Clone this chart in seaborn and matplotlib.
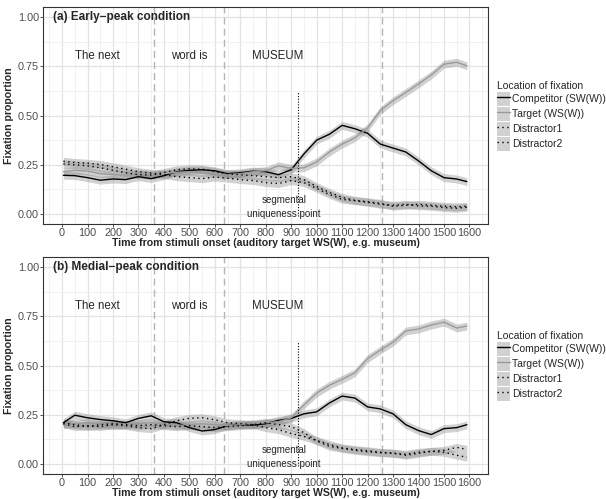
#!/usr/bin/env python
#
# Eye-tracking fixation proportions for two conditions (early / medial peak)

import numpy as np
import pandas as pd
import matplotlib
matplotlib.use("Agg")
import matplotlib.pyplot as plt
import seaborn as sns
from matplotlib.lines import Line2D
from matplotlib.patches import Patch
from matplotlib.legend_handler import HandlerTuple

# time bins (ms)
time_ms = [5] + list(range(50, 1551, 50)) + [1590]

locations = ["Competitor (SW(W))", "Target (WS(W))", "Distractor1", "Distractor2"]

# (a) early-peak condition
early_competitor = [0.197, 0.195, 0.185, 0.172, 0.178, 0.175, 0.190, 0.180, 0.195, 0.215,
                    0.222, 0.225, 0.220, 0.205, 0.210, 0.218, 0.215, 0.200, 0.225, 0.305,
                    0.375, 0.405, 0.450, 0.433, 0.410, 0.355, 0.335, 0.315, 0.270, 0.220,
                    0.185, 0.178, 0.165]
early_target = [0.215, 0.222, 0.218, 0.205, 0.200, 0.198, 0.205, 0.200, 0.205, 0.212,
                0.215, 0.210, 0.205, 0.200, 0.205, 0.215, 0.220, 0.245, 0.232, 0.235,
                0.265, 0.315, 0.355, 0.387, 0.437, 0.525, 0.575, 0.617, 0.660, 0.705,
                0.760, 0.770, 0.752]
early_distractor1 = [0.268, 0.262, 0.258, 0.252, 0.240, 0.228, 0.215, 0.208, 0.200, 0.190,
                     0.185, 0.180, 0.188, 0.182, 0.175, 0.170, 0.160, 0.155, 0.170, 0.160,
                     0.130, 0.100, 0.075, 0.068, 0.060, 0.050, 0.045, 0.050, 0.042, 0.040,
                     0.033, 0.030, 0.035]
early_distractor2 = [0.255, 0.250, 0.245, 0.235, 0.222, 0.210, 0.200, 0.198, 0.212, 0.225,
                     0.230, 0.228, 0.215, 0.205, 0.200, 0.195, 0.190, 0.185, 0.190, 0.175,
                     0.140, 0.110, 0.085, 0.070, 0.063, 0.055, 0.040, 0.045, 0.050, 0.045,
                     0.040, 0.037, 0.040]

# (b) medial-peak condition
medial_competitor = [0.210, 0.248, 0.235, 0.226, 0.220, 0.210, 0.232, 0.245, 0.215, 0.210,
                     0.185, 0.168, 0.175, 0.195, 0.200, 0.198, 0.205, 0.222, 0.232, 0.255,
                     0.265, 0.310, 0.345, 0.335, 0.290, 0.280, 0.255, 0.200, 0.170, 0.150,
                     0.180, 0.185, 0.200]
medial_target = [0.200, 0.205, 0.210, 0.200, 0.195, 0.200, 0.205, 0.210, 0.200, 0.195,
                 0.200, 0.205, 0.200, 0.195, 0.200, 0.205, 0.210, 0.215, 0.235, 0.300,
                 0.360, 0.400, 0.430, 0.463, 0.535, 0.578, 0.618, 0.675, 0.685, 0.705,
                 0.720, 0.690, 0.700]
medial_distractor1 = [0.205, 0.190, 0.195, 0.190, 0.200, 0.195, 0.185, 0.180, 0.200, 0.220,
                      0.232, 0.235, 0.225, 0.210, 0.205, 0.200, 0.210, 0.200, 0.190, 0.160,
                      0.118, 0.090, 0.080, 0.070, 0.063, 0.058, 0.055, 0.045, 0.055, 0.065,
                      0.070, 0.085, 0.075]
medial_distractor2 = [0.210, 0.200, 0.190, 0.200, 0.205, 0.200, 0.195, 0.200, 0.195, 0.190,
                      0.195, 0.190, 0.185, 0.190, 0.195, 0.200, 0.185, 0.175, 0.155, 0.140,
                      0.120, 0.100, 0.082, 0.074, 0.068, 0.060, 0.056, 0.050, 0.060, 0.065,
                      0.060, 0.045, 0.035]

ribbon_halfwidth = 0.02

panel_titles = ["(a) Early\u2212peak condition", "(b) Medial\u2212peak condition"]
word_labels = ["The next", "word is", "MUSEUM"]
word_label_times = [137, 500, 845]
word_boundaries = [362, 637, 1258]
uniqueness_point = 928


def build_frame(series):
    rows = []
    for loc, vals in zip(locations, series):
        for t, v in zip(time_ms, vals):
            rows.append({"time": t, "prop": v, "location": loc})
    return pd.DataFrame(rows)


def draw_panel(ax, df, title):
    ribbon_col = "#888888"
    for loc in locations:
        sub = df[df["location"] == loc]
        ax.fill_between(sub["time"], sub["prop"] - ribbon_halfwidth, sub["prop"] + ribbon_halfwidth,
                        color=ribbon_col, alpha=0.38, lw=0, zorder=2)
    pal = {locations[0]: "black", locations[1]: "#9a9a9a", locations[2]: "black", locations[3]: "black"}
    dashes = {locations[0]: "", locations[1]: "", locations[2]: (1, 2.5), locations[3]: (1, 2.5)}
    sns.lineplot(data=df, x="time", y="prop", hue="location", style="location",
                 palette=pal, dashes=dashes, linewidth=1.0, legend=False, ax=ax, zorder=3)

    for b in word_boundaries:
        ax.axvline(b, color="#b5b5b5", lw=1.0, ls=(0, (5, 3)), zorder=1)
    ymin, ymax = -0.05, 1.05
    ax.axvline(uniqueness_point, ymin=(-0.01 - ymin) / (ymax - ymin), ymax=(0.62 - ymin) / (ymax - ymin),
               color="black", lw=0.8, ls=(0, (1, 1.5)), zorder=4)
    ax.text(872, 0.035, "segmental\nuniqueness point", ha="center", va="center",
            fontsize=7, linespacing=1.5, zorder=5)
    for lab, t in zip(word_labels, word_label_times):
        ax.text(t, 0.80, lab, ha="center", va="center", fontsize=8.3)
    ax.text(-35, 1.0, title, ha="left", va="center", fontsize=8.5, fontweight="bold")

    ax.set_xlim(-75, 1673)
    ax.set_ylim(ymin, ymax)
    ax.set_xticks(np.arange(0, 1601, 100))
    ax.set_xticks(np.arange(-50, 1651, 100), minor=True)
    ax.set_yticks([0, 0.25, 0.5, 0.75, 1.0])
    ax.set_yticklabels(["0.00", "0.25", "0.50", "0.75", "1.00"])
    ax.set_yticks([0.125, 0.375, 0.625, 0.875], minor=True)
    ax.grid(which="major", color="#e3e3e3", lw=0.9, zorder=0)
    ax.grid(which="minor", color="#efefef", lw=0.6, zorder=0)
    ax.set_axisbelow(True)
    ax.tick_params(which="major", length=2, width=0.6, color="#333333", labelsize=7.8,
                   labelcolor="#4d4d4d", pad=0.8)
    ax.tick_params(which="minor", length=0)
    for s in ax.spines.values():
        s.set_color("#333333")
        s.set_linewidth(0.8)
    ax.set_xlabel("Time from stimuli onset (auditory target WS(W), e.g. museum)",
                  fontsize=7.6, fontweight="bold", labelpad=0)
    ax.set_ylabel("Fixation proportion", fontsize=7.6, fontweight="bold", labelpad=3)

    # legend with grey key background like the ribbons
    handles = []
    for loc in locations:
        bg = Patch(facecolor=ribbon_col, alpha=0.38, edgecolor="none")
        ln = Line2D([], [], color=pal[loc], lw=1.0,
                    ls="-" if dashes[loc] == "" else (0, dashes[loc]))
        handles.append((bg, ln))
    ax.legend(handles, locations, loc="upper left", bbox_to_anchor=(1.02, 0.658),
              frameon=False, fontsize=7.5, title="Location of fixation", title_fontsize=7.5,
              handlelength=1.25, handleheight=1.75, labelspacing=0.05, handletextpad=0.2,
              borderpad=0, borderaxespad=0, alignment="left",
              handler_map={tuple: HandlerTuple(ndivide=1, pad=0)})


def main():
    sns.set_style("ticks")
    plt.rcParams["font.family"] = ["Liberation Sans", "DejaVu Sans"]

    fig = plt.figure(figsize=(6.06, 4.99), dpi=100)
    W, H = 606, 499
    ax1 = fig.add_axes([43 / W, 1 - 224 / H, 445 / W, 217 / H])
    ax2 = fig.add_axes([43 / W, 1 - 474 / H, 445 / W, 217 / H])

    df_a = build_frame([early_competitor, early_target, early_distractor1, early_distractor2])
    df_b = build_frame([medial_competitor, medial_target, medial_distractor1, medial_distractor2])

    draw_panel(ax1, df_a, panel_titles[0])
    draw_panel(ax2, df_b, panel_titles[1])

    fig.savefig("out.png", dpi=100)


if __name__ == "__main__":
    main()
